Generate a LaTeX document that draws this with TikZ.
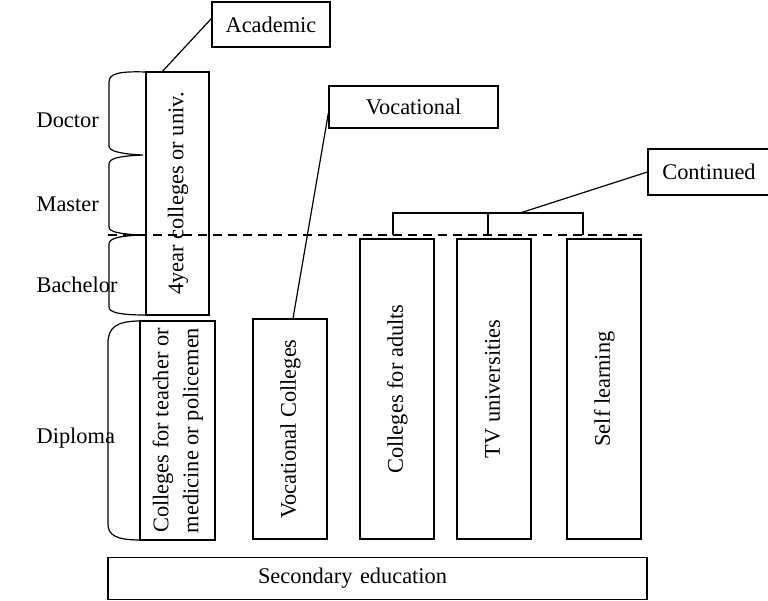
\documentclass[tikz,border=0pt]{standalone}
\usepackage{fontspec}
\setmainfont{Liberation Serif}
\usetikzlibrary{calc}
\newcommand{\vtext}[1]{\rotatebox{90}{\begin{tabular}{@{}c@{}}#1\end{tabular}}}

\begin{document}
\begin{tikzpicture}[
    x=0.5pt, y=-0.5pt,
    font=\fontsize{11.2}{15}\selectfont,
    line width=0.6pt,
    box/.style={draw, inner sep=0pt, align=center},
    level/.style={anchor=base west, inner sep=0pt},
    link/.style={line width=0.6pt},
    divider/.style={dash pattern=on 4.5pt off 3pt}
]
\useasboundingbox (0,0) rectangle (768,601);

% degree levels
\node[level] (doctor) at (36,127) {Doctor};
\node[level] (master) at (36,211) {Master};
\node[level] (bachelor) at (36,292) {Bachelor};
\node[level] (diploma) at (36,443) {Diploma};

% callouts
\node[box, minimum width=59pt, minimum height=22.5pt] (acad) at (271,24.5) {Academic};
\node[box, minimum width=84.5pt, minimum height=21pt] (voc) at (413.5,107) {Vocational};
\node[box, minimum width=61pt, minimum height=23pt] (cont) at (709,172) {Continued};

% institutions
\node[box, minimum width=31.5pt, minimum height=121.5pt] (univ) at (177.5,193.5) {\vtext{4year colleges or univ.}};
\node[box, minimum width=37.5pt, minimum height=109.5pt] (teach) at (177.5,430.5) {\vtext{Colleges for teacher or\\medicine or policemen}};
\node[box, minimum width=37pt, minimum height=110pt] (vcol) at (290,429) {\vtext{Vocational Colleges}};
\node[box, minimum width=37pt, minimum height=150pt] (adult) at (397,389) {\vtext{Colleges for adults}};
\node[box, minimum width=37pt, minimum height=150pt] (tv) at (494,389) {\vtext{TV universities}};
\node[box, minimum width=37pt, minimum height=150pt] (self) at (604,389) {\vtext{Self learning}};
\node[box, minimum width=269.5pt, minimum height=21pt, text width=119.5pt, inner xsep=75pt, align=left] (sec) at (377.5,578.5) {Secondary education};

% level braces
\draw (146,72) .. controls (118,71) and (109,74) .. (109,82) -- (109,146)
      .. controls (109,151) and (120,154) .. (143,155)
      .. controls (120,156) and (109,158) .. (109,164) -- (109,227)
      .. controls (109,232) and (120,234) .. (141,235)
      .. controls (120,236) and (109,238) .. (109,244) -- (109,307)
      .. controls (109,312) and (118,315) .. (146,315);
\draw (140,321) .. controls (116,321) and (108,328) .. (108,343) -- (108,524)
      .. controls (108,535) and (116,540) .. (140,540);

% bachelor line
\coordinate (dl) at (108,235);
\coordinate (dr) at (642,235);
\draw[divider] (dl) -- (dr);

% continued bracket
\coordinate (ca) at (393,213);
\coordinate (cb) at (488,213);
\coordinate (cc) at (583,213);
\coordinate (cm) at (520,213);
\draw (ca |- dl) -- (ca) -- (cc) -- (cc |- dl);
\draw (cb) -- (cb |- dl);

% connectors
\draw[link] ([xshift=8.5pt]univ.north west) -- ([yshift=3pt]acad.west);
\draw[link] ([xshift=1.5pt]vcol.north) -- ([yshift=-3pt]voc.west);
\draw[link] (cm) -- (cont.west);
\end{tikzpicture}
\end{document}
